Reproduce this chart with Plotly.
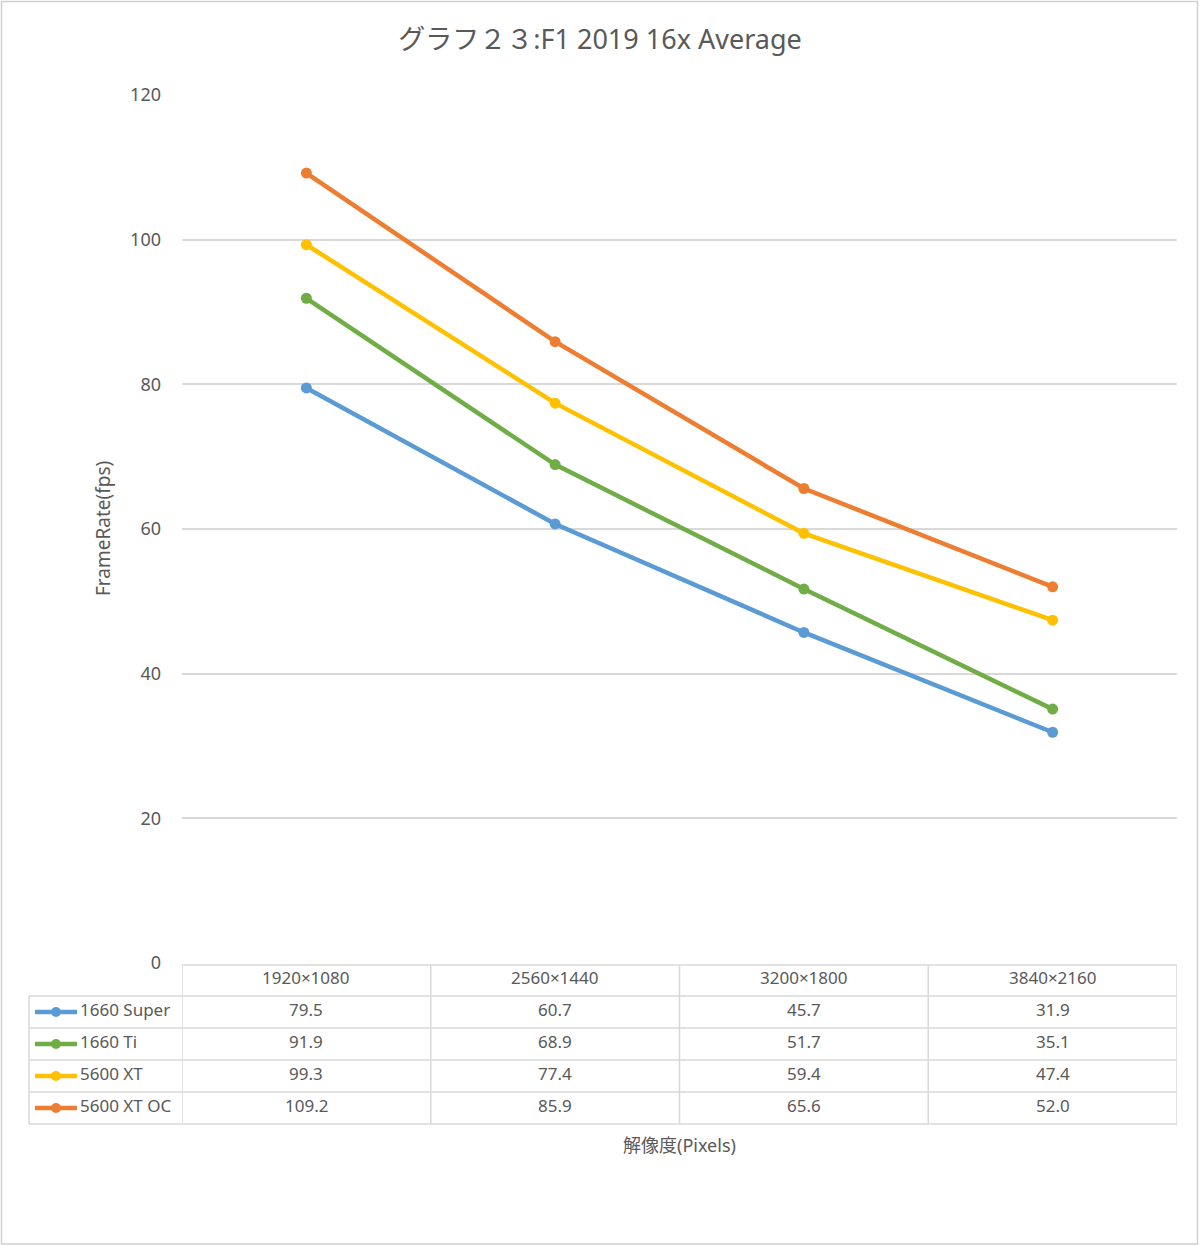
import plotly.graph_objects as go

categories = ["1920×1080", "2560×1440", "3200×1800", "3840×2160"]
series_names = ["1660 Super", "1660 Ti", "5600 XT", "5600 XT OC"]
s_1660super = [79.5, 60.7, 45.7, 31.9]
s_1660ti = [91.9, 68.9, 51.7, 35.1]
s_5600xt = [99.3, 77.4, 59.4, 47.4]
s_5600xtoc = [109.2, 85.9, 65.6, 52.0]
series_values = [s_1660super, s_1660ti, s_5600xt, s_5600xtoc]
colors = ["#5b9bd5", "#70ad47", "#ffc000", "#ed7d31"]
y_ticks = [0, 20, 40, 60, 80, 100, 120]

W, H = 1200, 1246
L, R, T, B = 182, 1177, 95, 963  # plot area pixels


def px(x):
    return (x - L) / (R - L)


def py(y):
    return (B - y) / (B - T)


FONT = "Noto Sans, Noto Sans CJK JP, sans-serif"
TXT = "#595959"
GRID = "#d9d9d9"

fig = go.Figure()
xs = list(range(len(categories)))
for name, vals, c in zip(series_names, series_values, colors):
    fig.add_trace(go.Scatter(
        x=xs, y=vals, name=name, mode="lines+markers",
        line=dict(color=c, width=4.5),
        marker=dict(color=c, size=11),
        showlegend=False,
    ))

shapes = []
annotations = []

# outer border
shapes.append(dict(type="rect", xref="paper", yref="paper",
                   x0=px(1.5), x1=px(1197.5), y0=py(1244), y1=py(1.5),
                   line=dict(color="#d0d0d0", width=1.5), layer="below"))

# data table
row_edges = [965, 996, 1028, 1060, 1092, 1124]
col_left = 29
line_style = dict(color=GRID, width=1.5)
for i, ry in enumerate(row_edges):
    x0 = L if i == 0 else col_left
    shapes.append(dict(type="line", xref="paper", yref="paper",
                       x0=px(x0), x1=1, y0=py(ry), y1=py(ry), line=line_style))
shapes.append(dict(type="line", xref="paper", yref="paper",
                   x0=px(col_left), x1=px(col_left), y0=py(row_edges[1]), y1=py(row_edges[-1]),
                   line=line_style))
for k in range(len(categories) + 1):
    shapes.append(dict(type="line", xref="x", yref="paper",
                       x0=k - 0.5, x1=k - 0.5, y0=py(row_edges[0]), y1=py(row_edges[-1]),
                       line=line_style))

cell_font = dict(size=17, color=TXT, family=FONT)
hdr_y = py((row_edges[0] + row_edges[1]) / 2)
for k, cat in enumerate(categories):
    annotations.append(dict(x=k, y=hdr_y, xref="x", yref="paper", text=cat,
                            xanchor="center", yanchor="middle", yshift=3,
                            showarrow=False, font=cell_font))
for r, (name, vals, c) in enumerate(zip(series_names, series_values, colors)):
    cy = py((row_edges[r + 1] + row_edges[r + 2]) / 2)
    for k, v in enumerate(vals):
        annotations.append(dict(x=k, y=cy, xref="x", yref="paper", text=f"{v:.1f}",
                                xanchor="center", yanchor="middle", yshift=3,
                                showarrow=False, font=cell_font))
    annotations.append(dict(x=px(78), y=cy, xref="paper", yref="paper", text=name,
                            xanchor="left", yanchor="middle", yshift=3, showarrow=False,
                            font=cell_font))
    shapes.append(dict(type="line", xref="paper", yref="paper",
                       x0=px(35), x1=px(77), y0=cy, y1=cy,
                       line=dict(color=c, width=4.5)))
    shapes.append(dict(type="circle", xref="paper", yref="paper",
                       xsizemode="pixel", ysizemode="pixel",
                       xanchor=px(56), yanchor=cy,
                       x0=-5, x1=5, y0=-5, y1=5,
                       fillcolor=c, line=dict(color=c, width=0)))

annotations.append(dict(x=px(103), y=0.5, xref="paper", yref="paper",
                        xanchor="center", yanchor="middle",
                        text="FrameRate(fps)", textangle=-90, showarrow=False,
                        font=dict(size=19, color=TXT, family=FONT)))
annotations.append(dict(x=0.5, y=py(1145), xref="paper", yref="paper",
                        xanchor="center", yanchor="middle",
                        text="解像度(Pixels)", showarrow=False,
                        font=dict(size=18, color=TXT, family=FONT)))

fig.update_layout(
    width=W, height=H,
    margin=dict(l=L, r=W - R, t=T, b=H - B),
    paper_bgcolor="white", plot_bgcolor="white",
    title=dict(text="グラフ２３:F1 2019 16x Average", x=0.5, xref="container",
               xanchor="center", y=1 - 40 / H, yanchor="middle",
               font=dict(size=27, color=TXT, family=FONT)),
    xaxis=dict(range=[-0.5, 3.5], showticklabels=False, showgrid=False,
               zeroline=False, showline=False, fixedrange=True),
    yaxis=dict(range=[0, 120], tickvals=y_ticks, showgrid=True, gridcolor=GRID,
               gridwidth=1.5, zeroline=False, showline=False,
               tickfont=dict(size=18, color=TXT, family=FONT),
               ticklabelstandoff=20),
    shapes=shapes, annotations=annotations,
)

fig.write_html("out.html", config={"displayModeBar": False},
               post_script="document.body.style.margin='0';")
